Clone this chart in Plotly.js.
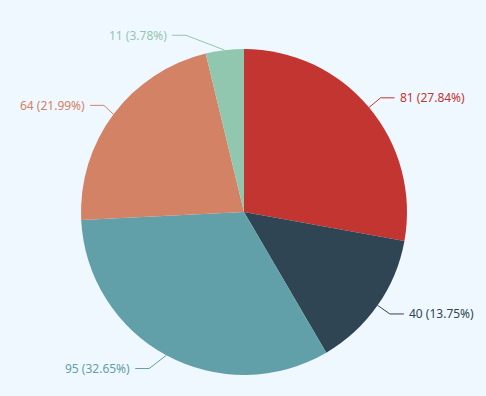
<!DOCTYPE html>
<html>
<head>
<meta charset="utf-8">
<script src="https://cdn.plot.ly/plotly-3.0.1.min.js"></script>
<style>html,body{margin:0;padding:0;background:#f0f8ff;}#chart{width:486px;height:396px;}</style>
</head>
<body>
<div id="chart"></div>
<script>
var values = [81, 40, 95, 64, 11];
var names = ['A', 'B', 'C', 'D', 'E'];
var colors = ['#c23531', '#2f4554', '#61a0a8', '#d48265', '#91c7ae'];

// label-layout tweaks (horizontal shift of the leader-line elbow, px) — styling only
var elbowShift = [0, 0, -10, 2.5, -37];

var W = 486, H = 396;
var cx = 244, cy = 212, R = 163;
var len1 = 15, len2 = 14, gap = 3;

var total = values.reduce(function(a, b){ return a + b; }, 0);
var annotations = [], shapes = [];
var cum = 0;
function px(x){ return x / W; }
function py(y){ return 1 - y / H; }
values.forEach(function(v, i){
  var mid = (cum + v / 2) / total * 2 * Math.PI;
  cum += v;
  var s = Math.sin(mid), c = Math.cos(mid);
  var x0 = cx + R * s, y0 = cy - R * c;
  var x1 = cx + (R + len1) * s + elbowShift[i], y1 = cy - (R + len1) * c;
  var dir = s >= 0 ? 1 : -1;
  var x2 = x1 + dir * len2;
  shapes.push({
    type: 'path', xref: 'paper', yref: 'paper',
    path: 'M ' + px(x0) + ' ' + py(y0) + ' L ' + px(x1) + ' ' + py(y1) + ' L ' + px(x2) + ' ' + py(y1),
    line: {color: colors[i], width: 1}
  });
  var pct = (v / total * 100).toFixed(2);
  annotations.push({
    xref: 'paper', yref: 'paper', x: px(x2 + dir * gap), y: py(y1),
    xanchor: dir > 0 ? 'left' : 'right', yanchor: 'middle',
    text: v + ' (' + pct + '%)', showarrow: false,
    font: {family: 'Noto Sans, sans-serif', size: 12, color: colors[i]}
  });
});

var trace = {
  type: 'pie',
  values: values,
  labels: names,
  sort: false,
  direction: 'clockwise',
  rotation: 0,
  textinfo: 'none',
  hoverinfo: 'none',
  marker: {colors: colors, line: {width: 0}},
  domain: {x: [(cx - R) / W, (cx + R) / W], y: [(H - cy - R) / H, (H - cy + R) / H]},
  showlegend: false
};

Plotly.newPlot('chart', [trace], {
  width: W, height: H,
  margin: {l: 0, r: 0, t: 0, b: 0},
  paper_bgcolor: '#f0f8ff',
  plot_bgcolor: '#f0f8ff',
  showlegend: false,
  annotations: annotations,
  shapes: shapes
}, {displayModeBar: false, staticPlot: true});
</script>
</body>
</html>
